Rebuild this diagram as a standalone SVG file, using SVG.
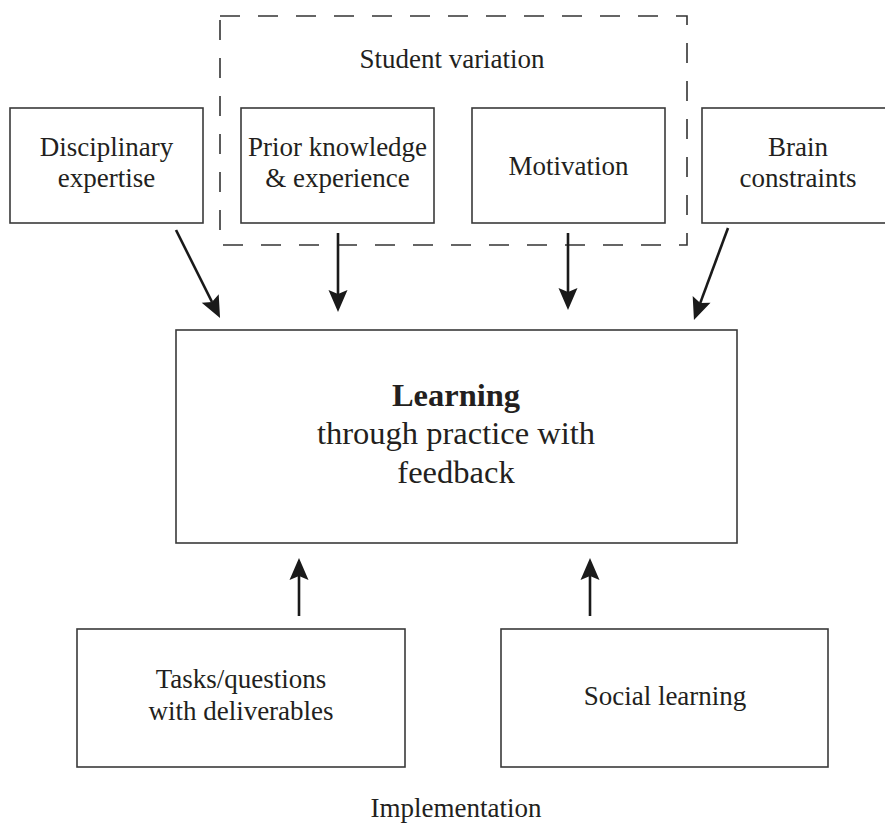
<svg xmlns="http://www.w3.org/2000/svg" width="885" height="824" viewBox="0 0 885 824">
<style>
.box{fill:none;stroke:#3a3a3a;stroke-width:1.6}
.dash{fill:none;stroke:#333;stroke-width:1.6;stroke-dasharray:20 18}
.t{font-family:"Liberation Serif","Times New Roman",serif;font-size:27px;fill:#231f20;text-anchor:middle}
.tl{font-family:"Liberation Serif","Times New Roman",serif;font-size:32.5px;fill:#231f20;text-anchor:middle}
.b{font-weight:bold}
.arr{fill:none;stroke:#1a1a1a;stroke-width:2.6;marker-end:url(#ah)}
</style>
<defs>
<marker id="ah" markerUnits="userSpaceOnUse" markerWidth="26" markerHeight="22" viewBox="0 -11 24 22" refX="4" refY="0" orient="auto">
<path d="M0,-9.5 L22,0 L0,9.5 L4,0 Z" fill="#1a1a1a"/>
</marker>
</defs>
<rect width="885" height="824" fill="#fff"/>
<g id="student-variation">
<rect class="dash" x="220" y="16" width="467" height="229"/>
<text class="t" x="452" y="68">Student variation</text>
</g>
<g id="disciplinary">
<rect class="box" x="10" y="108" width="193" height="115"/>
<text class="t" x="106.5" y="156">Disciplinary</text>
<text class="t" x="106.5" y="187">expertise</text>
</g>
<g id="prior">
<rect class="box" x="241" y="108" width="193" height="115"/>
<text class="t" x="337.5" y="156">Prior knowledge</text>
<text class="t" x="337.5" y="187">&amp; experience</text>
</g>
<g id="motivation">
<rect class="box" x="472" y="108" width="193" height="115"/>
<text class="t" x="568.5" y="175">Motivation</text>
</g>
<g id="brain">
<rect class="box" x="702" y="108" width="193" height="115"/>
<text class="t" x="798" y="156">Brain</text>
<text class="t" x="798" y="187">constraints</text>
</g>
<g id="learning">
<rect class="box" x="176" y="330" width="561" height="213"/>
<text class="tl b" x="456" y="406">Learning</text>
<text class="tl" x="456" y="444">through practice with</text>
<text class="tl" x="456" y="483">feedback</text>
</g>
<g id="tasks">
<rect class="box" x="77" y="629" width="328" height="138"/>
<text class="t" x="241" y="688">Tasks/questions</text>
<text class="t" x="241" y="720">with deliverables</text>
</g>
<g id="social">
<rect class="box" x="501" y="629" width="327" height="138"/>
<text class="t" x="665" y="705">Social learning</text>
</g>
<g id="implementation">
<text class="t" x="456" y="817">Implementation</text>
</g>
<g id="connectors">
<line class="arr" x1="176" y1="230" x2="212" y2="302"/>
<line class="arr" x1="338" y1="233" x2="338" y2="294"/>
<line class="arr" x1="568" y1="233" x2="568" y2="292"/>
<line class="arr" x1="728" y1="228" x2="700.2" y2="303.1"/>
<line class="arr" x1="299" y1="616" x2="299" y2="576"/>
<line class="arr" x1="590" y1="616" x2="590" y2="576"/>
</g>
</svg>
